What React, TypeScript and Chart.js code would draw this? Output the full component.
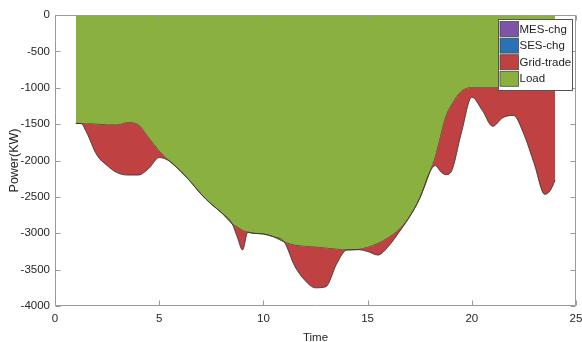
import React, { useEffect, useRef } from "react";
import { Chart, registerables } from "chart.js";

Chart.register(...registerables);

// Time (h)
const times = [
  1, 1.25, 1.5, 2, 2.5, 3, 3.5, 4, 4.5, 5, 5.5, 6, 6.5, 7, 7.5, 8, 8.5, 8.75, 9, 9.25, 9.5,
  10, 10.5, 11, 11.5, 12, 12.5, 13, 13.5, 14, 14.5, 15, 15.5, 16, 16.5, 17, 17.5, 18, 18.25,
  18.5, 18.75, 19, 19.5, 20, 20.5, 21, 21.5, 22, 22.5, 23, 23.5, 23.75, 24,
];

// Load (KW)
const loadKW = [
  -1490, -1492, -1495, -1500, -1510, -1510, -1480, -1510, -1690, -1870, -2010, -2140, -2290,
  -2460, -2600, -2720, -2870, -2915, -2960, -2985, -3000, -3010, -3050, -3120, -3165, -3180,
  -3190, -3205, -3220, -3230, -3225, -3195, -3140, -3060, -2950, -2780, -2520, -2150, -1950,
  -1670, -1400, -1250, -1050, -1000, -1000, -1000, -1000, -1000, -1000, -1000, -1000, -1000,
  -1000,
];

// Grid-trade (KW), stacked below the load
const gridTradeKW = [
  0, 0, -110, -420, -560, -660, -720, -690, -420, -90, 0, 0, 0, 0, 0, 0, 0, -140, -270, 0, 0,
  0, 0, 0, -285, -470, -560, -530, -210, 0, 0, -55, -160, -120, -40, 0, 0, 0, -120, -480,
  -795, -910, -570, -130, -310, -530, -410, -380, -640, -1050, -1465, -1420, -1270,
];

const mesChgKW: number[] = [];
const sesChgKW: number[] = [];

const seriesNames = ["MES-chg", "SES-chg", "Grid-trade", "Load"];
const seriesColors = ["#7E55A6", "#2A72B3", "#BF4141", "#8AB13F"];

const xTickValues = [0, 5, 10, 15, 20, 25];
const yTickValues = [0, -500, -1000, -1500, -2000, -2500, -3000, -3500, -4000];

const FONT = "'Liberation Sans', Arial, sans-serif";

const boxPlugin = {
  id: "matlabBox",
  afterDatasetsDraw(chart: any) {
    const { ctx, chartArea, scales } = chart;
    const { left, right, top, bottom } = chartArea;
    const L = Math.round(left) + 0.5;
    const R = Math.round(right) - 0.5;
    const T = Math.round(top) + 0.5;
    const B = Math.round(bottom) - 0.5;
    ctx.save();
    ctx.strokeStyle = "#9a9a9a";
    ctx.lineWidth = 1;
    ctx.beginPath();
    ctx.rect(L, T, R - L, B - T);
    const tl = 5;
    xTickValues.forEach((v) => {
      const px = Math.round(scales.x.getPixelForValue(v)) + 0.5;
      ctx.moveTo(px, B);
      ctx.lineTo(px, B - tl);
      ctx.moveTo(px, T);
      ctx.lineTo(px, T + tl);
    });
    yTickValues.forEach((v) => {
      const py = Math.round(scales.y.getPixelForValue(v)) + 0.5;
      ctx.moveTo(L, py);
      ctx.lineTo(L + tl, py);
      ctx.moveTo(R, py);
      ctx.lineTo(R - tl, py);
    });
    ctx.stroke();
    ctx.restore();
  },
};

const legendPlugin = {
  id: "insideLegend",
  afterDraw(chart: any) {
    const { ctx, chartArea } = chart;
    const ds = chart.data.datasets;
    const bx = Math.round(chartArea.right) - 77.5;
    const by = Math.round(chartArea.top) + 4.5;
    const bw = 74;
    const bh = 71;
    ctx.save();
    ctx.fillStyle = "#ffffff";
    ctx.fillRect(bx, by, bw, bh);
    ctx.strokeStyle = "#555555";
    ctx.lineWidth = 1;
    ctx.strokeRect(bx, by, bw, bh);
    ctx.font = `11.5px ${FONT}`;
    ctx.textAlign = "left";
    ctx.textBaseline = "middle";
    ds.forEach((d: any, i: number) => {
      const sy = by + 2 + i * 16.6;
      ctx.fillStyle = d.backgroundColor;
      ctx.fillRect(bx + 1.5, sy, 18.5, 15);
      ctx.strokeStyle = "#4a4a4a";
      ctx.lineWidth = 0.8;
      ctx.strokeRect(bx + 1.5, sy, 18.5, 15);
      ctx.fillStyle = "#1e1e1e";
      ctx.fillText(d.label, bx + 21, sy + 8);
    });
    ctx.restore();
  },
};

export default function App() {
  const canvasRef = useRef<HTMLCanvasElement | null>(null);

  useEffect(() => {
    document.body.style.margin = "0";
    const canvas = canvasRef.current;
    if (!canvas) return;

    const pts = (vals: number[]) => times.map((t, i) => ({ x: t, y: vals[i] }));
    const totalKW = loadKW.map((v, i) => v + gridTradeKW[i]);

    const chart = new Chart(canvas, {
      type: "line",
      data: {
        datasets: [
          {
            label: seriesNames[0],
            data: mesChgKW.map((v, i) => ({ x: times[i], y: v })),
            backgroundColor: seriesColors[0],
            borderColor: seriesColors[0],
            pointRadius: 0,
            fill: false,
          },
          {
            label: seriesNames[1],
            data: sesChgKW.map((v, i) => ({ x: times[i], y: v })),
            backgroundColor: seriesColors[1],
            borderColor: seriesColors[1],
            pointRadius: 0,
            fill: false,
          },
          {
            label: seriesNames[2],
            data: pts(totalKW),
            backgroundColor: seriesColors[2],
            borderColor: "#3a2a2a",
            borderWidth: 0.8,
            pointRadius: 0,
            cubicInterpolationMode: "monotone",
            fill: { target: "+1", above: "rgba(0,0,0,0)", below: seriesColors[2] },
          },
          {
            label: seriesNames[3],
            data: pts(loadKW),
            backgroundColor: seriesColors[3],
            borderColor: "#2e3a22",
            borderWidth: 0.8,
            pointRadius: 0,
            cubicInterpolationMode: "monotone",
            fill: "origin",
          },
        ] as any,
      },
      options: {
        responsive: false,
        animation: false,
        maintainAspectRatio: false,
        devicePixelRatio: 1,
        layout: { padding: { left: 0, right: 6, top: 15, bottom: 0 } },
        plugins: {
          legend: { display: false },
          tooltip: { enabled: false },
        },
        scales: {
          x: {
            type: "linear",
            min: 0,
            max: 25,
            afterBuildTicks: (s: any) => {
              s.ticks = xTickValues.map((v) => ({ value: v }));
            },
            afterFit: (s: any) => {
              s.height = 36;
              s.paddingLeft = 0;
              s.paddingRight = 0;
            },
            grid: { display: false, drawTicks: false },
            border: { display: false },
            ticks: {
              padding: 6,
              color: "#262626",
              font: { family: FONT, size: 11.5 },
              maxRotation: 0,
              autoSkip: false,
              callback: (v: any) => String(v),
            },
            title: {
              display: true,
              text: "Time",
              color: "#262626",
              font: { family: FONT, size: 11.5, lineHeight: 0.8 },
              padding: { top: 0, bottom: 0 },
            },
          },
          y: {
            type: "linear",
            min: -4000,
            max: 0,
            afterBuildTicks: (s: any) => {
              s.ticks = yTickValues.map((v) => ({ value: v }));
            },
            afterFit: (s: any) => {
              s.width = 55;
              s.paddingTop = 0;
              s.paddingBottom = 0;
            },
            grid: { display: false, drawTicks: false },
            border: { display: false },
            ticks: {
              padding: 5,
              color: "#262626",
              font: { family: FONT, size: 11.5 },
              autoSkip: false,
              callback: (v: any) => String(v),
            },
            title: {
              display: true,
              text: "Power(KW)",
              color: "#262626",
              font: { family: FONT, size: 12.5 },
              padding: { top: 7, bottom: 0 },
            },
          },
        },
      } as any,
      plugins: [boxPlugin, legendPlugin],
    });

    return () => chart.destroy();
  }, []);

  return (
    <div style={{ width: 582, height: 342, background: "#ffffff" }}>
      <canvas ref={canvasRef} width={582} height={342} style={{ display: "block", width: 582, height: 342 }} />
    </div>
  );
}
